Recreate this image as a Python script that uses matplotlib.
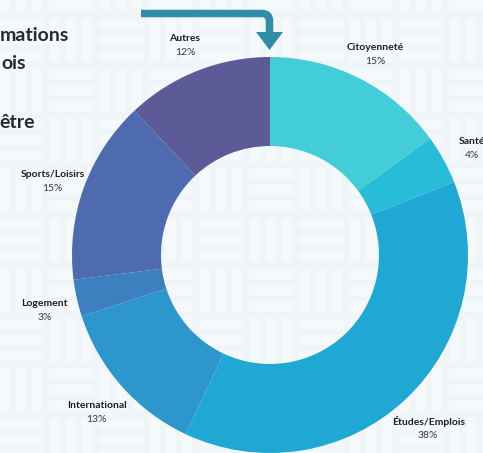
import numpy as np
import matplotlib
matplotlib.use("Agg")
import matplotlib.pyplot as plt
from matplotlib.patches import Rectangle, Polygon
from matplotlib.path import Path
from matplotlib.patches import PathPatch

plt.rcParams['font.family'] = ['Lato', 'DejaVu Sans']

# donnees du graphique
categories = ["Citoyenneté", "Santé", "Études/Emplois", "International",
              "Logement", "Sports/Loisirs", "Autres"]
valeurs = [15, 4, 38, 13, 3, 15, 12]
couleurs = ["#42cdd9", "#27bcd7", "#1fa8d3", "#2d96cc",
            "#3c80bf", "#4d6bae", "#5c5b98"]

W, H = 483, 453
fig = plt.figure(figsize=(W / 100, H / 100), dpi=100)
fig.patch.set_facecolor("#f0f5f8")
ax = fig.add_axes([0, 0, 1, 1])

# fond en vannerie (tres discret)
cell = 50
x0, y0 = -4, 15
fond_clair = "#f6f9fb"
for i in range(-1, 12):
    for j in range(-1, 11):
        cx = x0 + i * cell
        cy = y0 + j * cell
        Y = H - cy - cell
        for k in range(3):
            off = 4 + k * 16
            if (i + j) % 2 == 0:
                r = Rectangle((cx + 3, H - cy - off - 10), cell - 6, 10,
                              color=fond_clair, lw=0, zorder=0)
            else:
                r = Rectangle((cx + off, Y + 3), 10, cell - 6,
                              color=fond_clair, lw=0, zorder=0)
            ax.add_patch(r)

# donut
centre = (270, H - 255)
R = 198
wedges, _ = ax.pie(valeurs, colors=couleurs, startangle=90, counterclock=False,
                   center=centre, radius=R, frame=True,
                   wedgeprops=dict(width=R - 109, linewidth=0))
for w in wedges:
    w.set_zorder(2)
ax.set_xlim(0, W)
ax.set_ylim(0, H)
ax.set_aspect("equal")
ax.axis("off")

# etiquettes
r_lab = 231
for w, nom, v in zip(wedges, categories, valeurs):
    a = np.deg2rad((w.theta1 + w.theta2) / 2)
    x = centre[0] + r_lab * np.cos(a)
    y = centre[1] + r_lab * np.sin(a)
    ax.text(x, y + 2, nom, ha="center", va="center", fontsize=7.5,
            fontweight="bold", color="#1e1e1e", zorder=3)
    ax.text(x, y - 12, f"{v}%", ha="center", va="center", fontsize=7.5,
            color="#3a3a3a", zorder=3)

# fleche
teal = "#2f8ea5"
verts = [(141, H - 13.5), (262, H - 13.5), (269.5, H - 13.5),
         (269.5, H - 21), (269.5, H - 34)]
codes = [Path.MOVETO, Path.LINETO, Path.CURVE3, Path.CURVE3, Path.LINETO]
ax.add_patch(PathPatch(Path(verts, codes), fill=False, ec=teal, lw=5.4,
                       capstyle="butt", zorder=4))
ax.add_patch(Polygon([(256, H - 32), (283, H - 32), (269.5, H - 50)],
                     closed=True, color=teal, lw=0, zorder=4))

# bouts de texte coupes a gauche
for txt, xb, yb in [("mations", 0, 41), ("ois", 1, 69), ("être", -1, 128)]:
    ax.text(xb, H - yb, txt, ha="left", va="baseline", fontsize=14,
            fontweight="bold", color="#2a2a2a", zorder=3)

fig.savefig("out.png", dpi=100, facecolor=fig.get_facecolor())
